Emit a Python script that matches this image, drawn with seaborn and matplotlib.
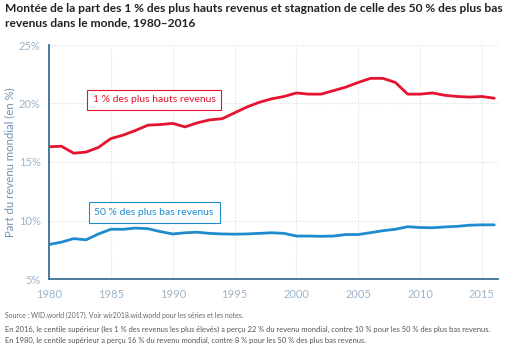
import matplotlib
matplotlib.use("Agg")
import matplotlib.pyplot as plt
import seaborn as sns
import pandas as pd

years = list(range(1980, 2017))
top1 = [16.3, 16.35, 15.75, 15.85, 16.25, 17.0, 17.3, 17.7, 18.15, 18.2, 18.3,
        18.0, 18.35, 18.6, 18.7, 19.2, 19.7, 20.1, 20.4, 20.6, 20.9,
        20.8, 20.8, 21.1, 21.4, 21.8, 22.15, 22.15, 21.8, 20.8, 20.8,
        20.9, 20.7, 20.6, 20.55, 20.6, 20.45]
bottom50 = [7.95, 8.15, 8.45, 8.35, 8.85, 9.25, 9.25, 9.35, 9.3, 9.05, 8.85,
            8.95, 9.0, 8.9, 8.85, 8.83, 8.85, 8.9, 8.95, 8.9, 8.67,
            8.67, 8.65, 8.67, 8.8, 8.8, 8.96, 9.13, 9.25, 9.47, 9.4,
            9.38, 9.45, 9.5, 9.6, 9.63, 9.63]
series_names = ["1 % des plus hauts revenus", "50 % des plus bas revenus"]
yticks = [5, 10, 15, 20, 25]
xticks = [1980, 1985, 1990, 1995, 2000, 2005, 2010, 2015]

title = ("Montée de la part des 1 % des plus hauts revenus et stagnation de celle des 50 % des plus bas\n"
         "revenus dans le monde, 1980–2016")
source = "Source : WID.world (2017). Voir wir2018.wid.world pour les séries et les notes."
note1 = ("En 2016, le centile supérieur (les 1 % des revenus les plus élevés) a perçu 22 % du revenu mondial, "
         "contre 10 % pour les 50 % des plus bas revenus.")
note2 = "En 1980, le centile supérieur a perçu 16 % du revenu mondial, contre 8 % pour les 50 % des plus bas revenus."
ylabel = "Part du revenu mondial (en %)"

df = pd.DataFrame({
    "year": years * 2,
    "value": top1 + bottom50,
    "series": [series_names[0]] * len(years) + [series_names[1]] * len(years),
})

sns.set_theme(style="white")
plt.rcParams["font.family"] = ["Lato", "DejaVu Sans"]

RED = "#e5132f"
BLUE = "#1f8bcd"
SPINE = "#3d6f93"
TICK = "#9db4c9"

fig = plt.figure(figsize=(5.31, 3.5), dpi=100)
ax = fig.add_axes([49 / 531, 1 - 279 / 350, (498 - 49) / 531, (279 - 45) / 350])

sns.lineplot(data=df, x="year", y="value", hue="series",
             palette=[RED, BLUE], linewidth=2.0, legend=False, ax=ax)

ax.set_xlim(1980, 2016.3)
ax.set_ylim(5, 25)
ax.set_xticks(xticks)
ax.set_yticks(yticks)
ax.set_yticklabels([f"{v}%" for v in yticks])
ax.set_xlabel("")
ax.set_ylabel(ylabel, color="#6f93b3", fontsize=8.2)
ax.yaxis.set_label_coords(-(49 - 15) / 449, 0.5)

ax.grid(True, color="#d7dde3", linestyle=(0, (1, 1.5)), linewidth=0.8)
for s in ["top", "right"]:
    ax.spines[s].set_visible(False)
for s in ["left", "bottom"]:
    ax.spines[s].set_color(SPINE)
    ax.spines[s].set_linewidth(1.3)
ax.tick_params(axis="both", colors=SPINE, labelcolor=TICK, labelsize=8,
               direction="out", length=3, width=1)
ax.tick_params(axis="x", pad=4)
ax.tick_params(axis="y", pad=3)

ax.text(1988.5, 20.3, series_names[0], color=RED, fontsize=7.5, ha="center", va="center",
        bbox=dict(boxstyle="square,pad=0.55", fc="white", ec=RED, lw=0.8, alpha=1))
ax.text(1988.5, 10.7, series_names[1], color=BLUE, fontsize=7.5, ha="center", va="center",
        bbox=dict(boxstyle="square,pad=0.55", fc="white", ec=BLUE, lw=0.8, alpha=1))

fig.text(5 / 531, 1 - 3 / 350, title, ha="left", va="top", fontsize=8.65,
         fontweight="bold", color="#222222", linespacing=1.35)
fig.text(5 / 531, 1 - 315 / 350, source, ha="left", va="center", fontsize=4.95, color="#666666")
fig.text(5 / 531, 1 - 329 / 350, note1, ha="left", va="center", fontsize=5.45, color="#555555")
fig.text(5 / 531, 1 - 340 / 350, note2, ha="left", va="center", fontsize=5.45, color="#555555")

fig.savefig("out.png", dpi=100)
